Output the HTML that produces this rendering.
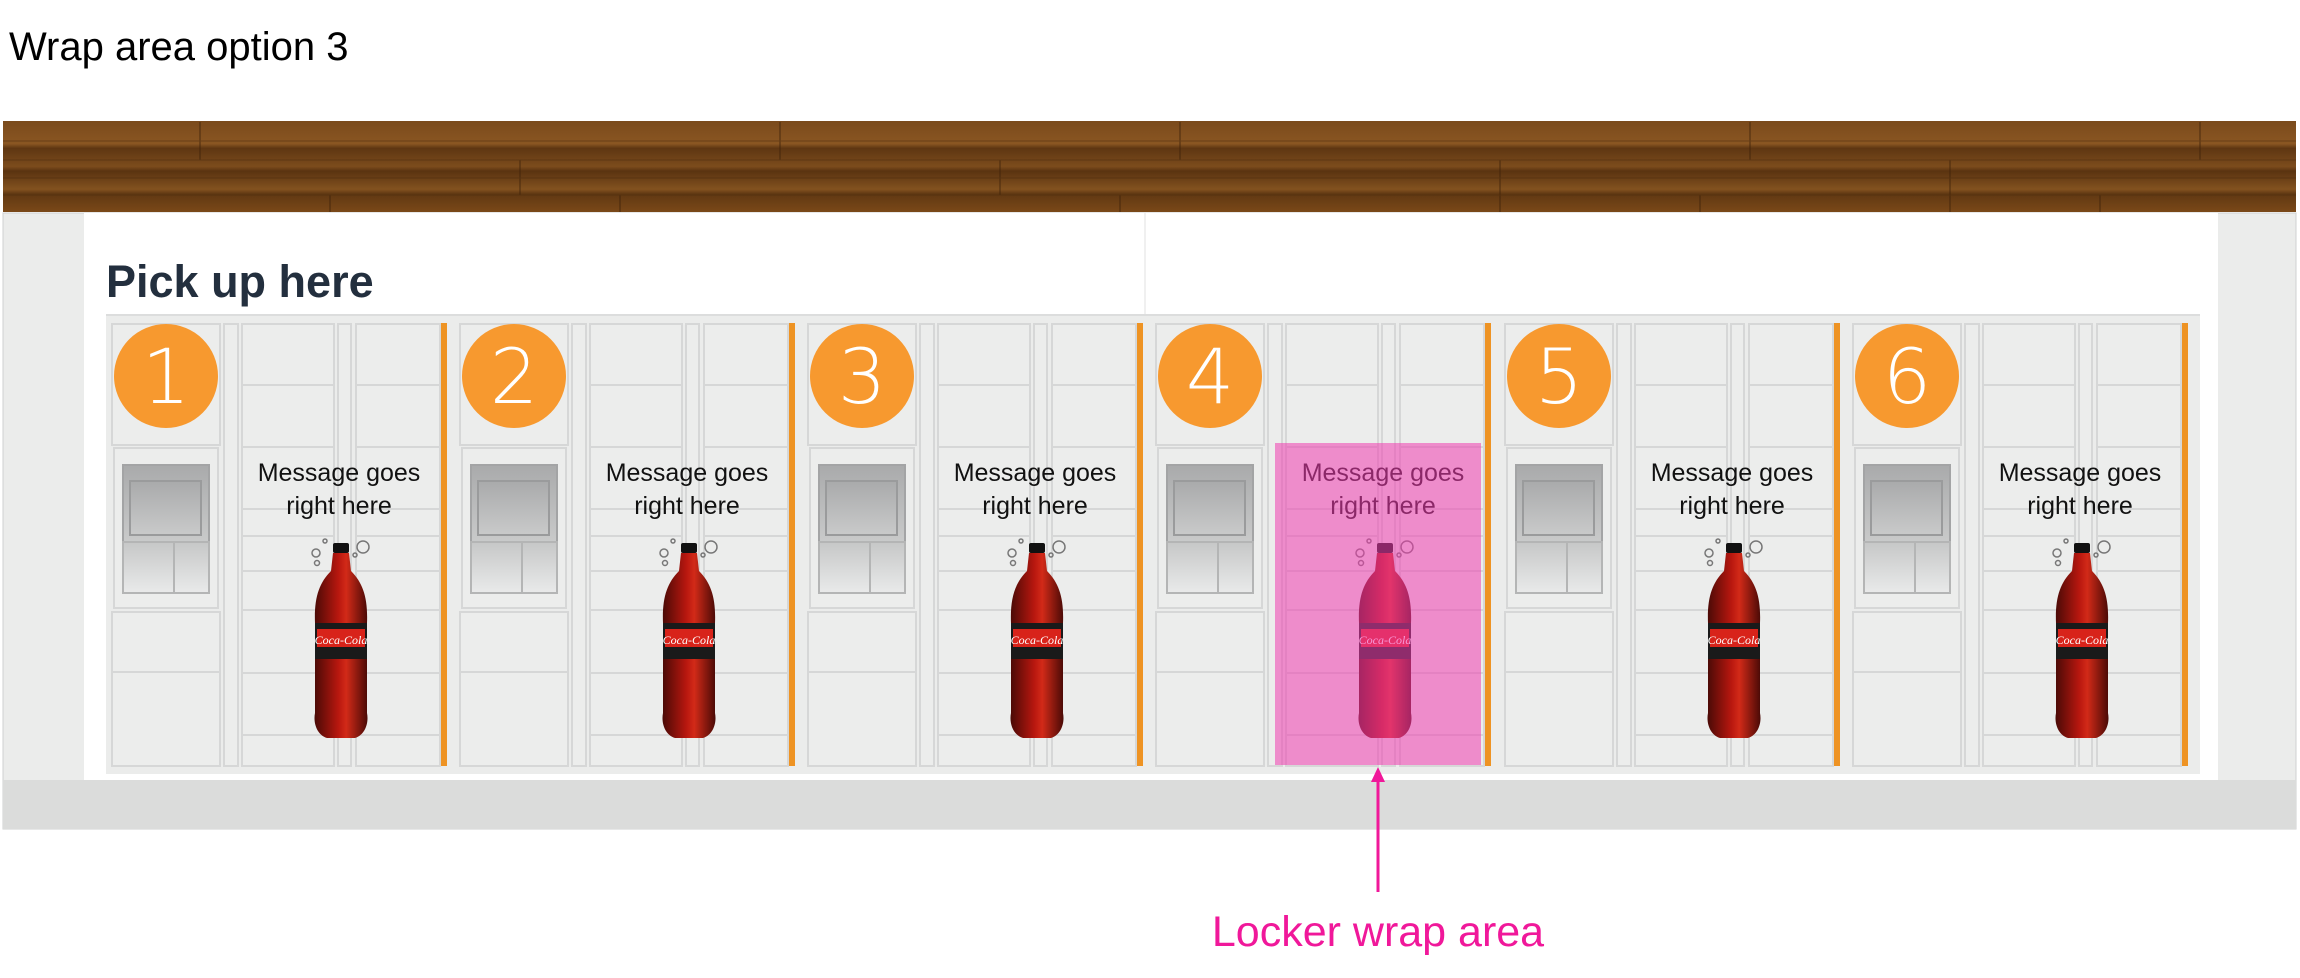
<!DOCTYPE html>
<html><head><meta charset="utf-8"><style>
html,body{margin:0;padding:0;background:#fff;}
body{width:2300px;height:978px;position:relative;overflow:hidden;font-family:"Liberation Sans",sans-serif;}
</style></head><body>
<svg width="2300" height="978" viewBox="0 0 2300 978" xmlns="http://www.w3.org/2000/svg" style="position:absolute;left:0;top:0">
<defs>
<linearGradient id="wood" x1="0" y1="0" x2="0" y2="1">
<stop offset="0" stop-color="#7a4a1c"/><stop offset="0.25" stop-color="#8a5622"/><stop offset="0.3" stop-color="#5e3612"/>
<stop offset="0.5" stop-color="#7c4c1c"/><stop offset="0.55" stop-color="#5a3310"/><stop offset="0.75" stop-color="#83521f"/>
<stop offset="0.8" stop-color="#603812"/><stop offset="1" stop-color="#7a4818"/></linearGradient>
<linearGradient id="scr" x1="0" y1="0" x2="0" y2="1"><stop offset="0" stop-color="#a9aaab"/><stop offset="1" stop-color="#c9caca"/></linearGradient>
<linearGradient id="key" x1="0" y1="0" x2="0" y2="1"><stop offset="0" stop-color="#c6c7c7"/><stop offset="1" stop-color="#e9eaea"/></linearGradient>
<linearGradient id="btl" x1="0" y1="0" x2="1" y2="0"><stop offset="0" stop-color="#4a0a06"/><stop offset="0.45" stop-color="#b8170f"/><stop offset="0.6" stop-color="#d22a18"/><stop offset="1" stop-color="#4a0a06"/></linearGradient>
<g id="mod" fill="#ecedec" stroke="#d6d7d7" stroke-width="2">
<rect x="1" y="1" width="108" height="121"/>
<rect x="3" y="125" width="104" height="160"/>
<rect x="1" y="289" width="108" height="60"/>
<rect x="1" y="349" width="108" height="94"/>
<rect x="113" y="1" width="14" height="442"/>
<rect x="131" y="1" width="92" height="442"/>
<rect x="227" y="1" width="13" height="442"/>
<rect x="245" y="1" width="84" height="442"/>
<path d="M131 62H223M131 124H223M131 186H223M131 213H223M131 248H223M131 287H223M131 350H223M131 412H223M245 62H329M245 124H329M245 186H329M245 213H329M245 248H329M245 287H329M245 350H329M245 412H329" fill="none"/>
<rect x="12" y="142" width="86" height="77" fill="url(#scr)" stroke="#a3a4a5"/>
<rect x="19" y="158" width="71" height="54" fill="url(#scr)" stroke="#9a9b9c"/>
<rect x="12" y="219" width="86" height="51" fill="url(#key)" stroke="#b4b5b5"/>
<path d="M63 219V270" stroke="#b4b5b5"/>
<rect x="330" y="0" width="6" height="443" fill="#ee9323" stroke="none"/>
<circle cx="55" cy="53" r="52" fill="#f7992f" stroke="none"/>
</g>
<g id="bottle">
<circle cx="-25" cy="10" r="4" fill="none" stroke="#777" stroke-width="1.5"/>
<circle cx="-24" cy="20" r="2.5" fill="none" stroke="#777" stroke-width="1.5"/>
<circle cx="-16" cy="-2" r="2" fill="none" stroke="#777" stroke-width="1.5"/>
<circle cx="22" cy="4" r="6" fill="none" stroke="#777" stroke-width="1.5"/>
<circle cx="14" cy="12" r="2" fill="none" stroke="#777" stroke-width="1.5"/>
<rect x="-8" y="0" width="16" height="10" rx="2" fill="#111"/>
<path d="M-8 10H8L10 28C22 40 27 55 26 80V170C28 180 24 192 14 195H-14C-24 192-28 180-26 170V80C-27 55-22 40-10 28Z" fill="url(#btl)"/>
<rect x="-26" y="80" width="52" height="36" fill="#1a1a1a"/>
<rect x="-24" y="86" width="48" height="18" fill="#d8231a"/>
<text x="0" y="101" font-size="12" font-style="italic" font-family="Liberation Serif,serif" fill="#fff" text-anchor="middle">Coca-Cola</text>
</g>
</defs>

<text x="9" y="60" font-size="40" fill="#000" font-family="Liberation Sans,sans-serif">Wrap area option 3</text>

<rect x="3" y="213" width="2293" height="616" fill="#ebeceb" stroke="#cfd0d0" stroke-width="1"/>
<rect x="3" y="780" width="2293" height="49" fill="#dbdcdb"/>
<rect x="84" y="213" width="2134" height="567" fill="#fff"/>
<rect x="1144" y="213" width="2" height="103" fill="#f0f0f0"/>
<rect x="3" y="121" width="2293" height="91" fill="url(#wood)"/>
<g stroke="#3e220a" stroke-width="1.5" opacity="0.55">
<path d="M200 122V160M520 160V195M780 122V160M1000 160V195M1180 122V160M1500 160V212M1750 122V160M1950 160V212M2200 122V160M330 195V212M620 195V212M1120 195V212M1700 195V212M2100 195V212"/>
<path d="M3 141H2296M3 160H2296M3 178H2296M3 195H2296" stroke="#4a2a0e" opacity="0.6"/>
</g>

<text x="106" y="297" font-size="45" font-weight="bold" fill="#232f3e">Pick up here</text>

<rect x="106" y="315" width="2094" height="459" fill="#ebeceb"/>
<line x1="106" y1="315" x2="2200" y2="315" stroke="#dcdddd" stroke-width="2"/>

<g transform="translate(111,323)"><use href="#mod"/></g>
<g transform="translate(459,323)"><use href="#mod"/></g>
<g transform="translate(807,323)"><use href="#mod"/></g>
<g transform="translate(1155,323)"><use href="#mod"/></g>
<g transform="translate(1504,323)"><use href="#mod"/></g>
<g transform="translate(1852,323)"><use href="#mod"/></g>

<g font-size="76" fill="#fff" text-anchor="middle" font-family="DejaVu Sans,sans-serif" font-weight="200">
<text x="166" y="403">1</text><text x="514" y="403">2</text><text x="862" y="403">3</text>
<text x="1210" y="403">4</text><text x="1559" y="403">5</text><text x="1907" y="403">6</text>
</g>

<g font-size="25" fill="#111" text-anchor="middle">
<text x="339" y="481">Message goes</text><text x="339" y="514">right here</text>
<text x="687" y="481">Message goes</text><text x="687" y="514">right here</text>
<text x="1035" y="481">Message goes</text><text x="1035" y="514">right here</text>
<text x="1383" y="481">Message goes</text><text x="1383" y="514">right here</text>
<text x="1732" y="481">Message goes</text><text x="1732" y="514">right here</text>
<text x="2080" y="481">Message goes</text><text x="2080" y="514">right here</text>
</g>

<use href="#bottle" x="341" y="543"/>
<use href="#bottle" x="689" y="543"/>
<use href="#bottle" x="1037" y="543"/>
<use href="#bottle" x="1385" y="543"/>
<use href="#bottle" x="1734" y="543"/>
<use href="#bottle" x="2082" y="543"/>

<rect x="1275" y="443" width="206" height="322" fill="#f03cb0" opacity="0.55"/>

<line x1="1378" y1="778" x2="1378" y2="892" stroke="#f0189a" stroke-width="3"/>
<path d="M1371 782L1378 767L1385 782Z" fill="#f0189a"/>
<text x="1378" y="946" font-size="43" fill="#f0189a" text-anchor="middle">Locker wrap area</text>
</svg>
</body></html>
